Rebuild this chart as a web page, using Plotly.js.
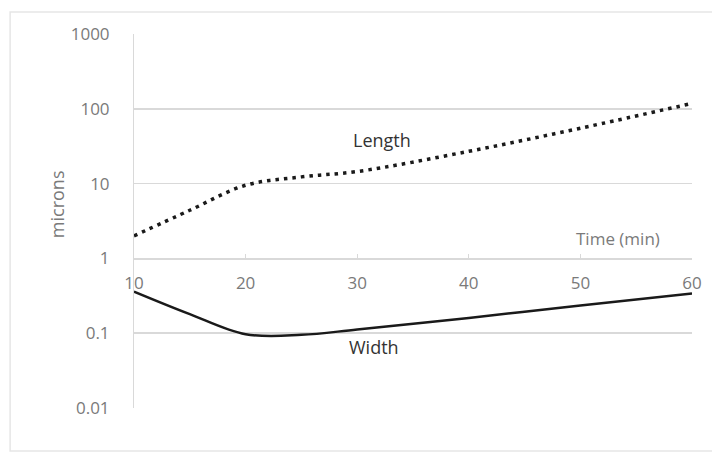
<!DOCTYPE html>
<html>
<head>
<meta charset="utf-8">
<script src="https://cdn.plot.ly/plotly-3.0.1.min.js"></script>
<style>html,body{margin:0;padding:0;background:#fff;}#chart{width:712px;height:452px;}</style>
</head>
<body>
<div id="chart"></div>
<script>
// Data
var lengthTime = [10, 15, 20, 25, 30, 40, 50, 60];
var lengthMicrons = [2.0, 4.4, 9.5, 12.3, 14.5, 27, 55, 118];
var widthTime = [10, 15, 20, 25, 30, 40, 50, 60];
var widthMicrons = [0.36, 0.18, 0.097, 0.095, 0.112, 0.16, 0.235, 0.34];
var xTickVals = [10, 20, 30, 40, 50, 60];
var yTickVals = [0.01, 0.1, 1, 10, 100, 1000];
var yTickText = ['0.01', '0.1', '1', '10', '100', '1000'];

var grid = '#d9d9d9';
var tickColor = '#7a7a7a';
var fontFam = 'Open Sans, Liberation Sans, sans-serif';

var traces = [
  {
    x: lengthTime, y: lengthMicrons, name: 'Length', type: 'scatter', mode: 'lines',
    line: {color: '#1a1a1a', width: 3.5, dash: '3.5px,5px', shape: 'spline', smoothing: 1.0},
    hoverinfo: 'x+y'
  },
  {
    x: widthTime, y: widthMicrons, name: 'Width', type: 'scatter', mode: 'lines',
    line: {color: '#1a1a1a', width: 2.5, shape: 'spline', smoothing: 1.0},
    hoverinfo: 'x+y'
  }
];

var layout = {
  width: 712, height: 452,
  margin: {l: 134, r: 20, t: 34, b: 44},
  paper_bgcolor: '#ffffff', plot_bgcolor: '#ffffff',
  showlegend: false,
  font: {family: fontFam, color: tickColor},
  xaxis: {
    range: [10, 60], tickvals: xTickVals,
    anchor: 'free', position: 0.4,
    showline: true, linecolor: grid, linewidth: 1.5,
    ticks: 'inside', ticklen: 4, tickcolor: grid,
    showgrid: false, zeroline: false,
    tickfont: {size: 17, color: tickColor},
    ticklabelstandoff: 9
  },
  yaxis: {
    type: 'log', range: [-2, 3],
    tickvals: yTickVals, ticktext: yTickText,
    showline: true, linecolor: grid, linewidth: 1,
    showgrid: true, gridcolor: grid, gridwidth: 1.5,
    zeroline: false, ticks: '',
    tickfont: {size: 17, color: tickColor},
    ticklabelstandoff: 20
  },
  annotations: [
    {x: -0.138, y: 0.545, xref: 'paper', yref: 'paper', xanchor: 'center', yanchor: 'middle',
     text: 'microns', textangle: -90, showarrow: false,
     font: {size: 18, color: tickColor, family: fontFam}},
    {x: 32.2, y: Math.log10(38), xref: 'x', yref: 'y', text: 'Length', showarrow: false,
     font: {size: 18, color: '#333333', family: fontFam}},
    {x: 31.5, y: Math.log10(0.0645), xref: 'x', yref: 'y', text: 'Width', showarrow: false,
     font: {size: 18, color: '#333333', family: fontFam}},
    {x: 53.4, y: Math.log10(1.85), xref: 'x', yref: 'y', text: 'Time (min)', showarrow: false,
     font: {size: 17, color: tickColor, family: fontFam}}
  ],
  shapes: [
    {type: 'rect', xref: 'paper', yref: 'paper', x0: -0.222, x1: 1.05, y0: -0.115, y1: 1.059,
     line: {color: '#e6e6e6', width: 1.5}, fillcolor: 'rgba(0,0,0,0)', layer: 'below'}
  ]
};

Plotly.newPlot('chart', traces, layout, {staticPlot: true, displayModeBar: false});
</script>
</body>
</html>
